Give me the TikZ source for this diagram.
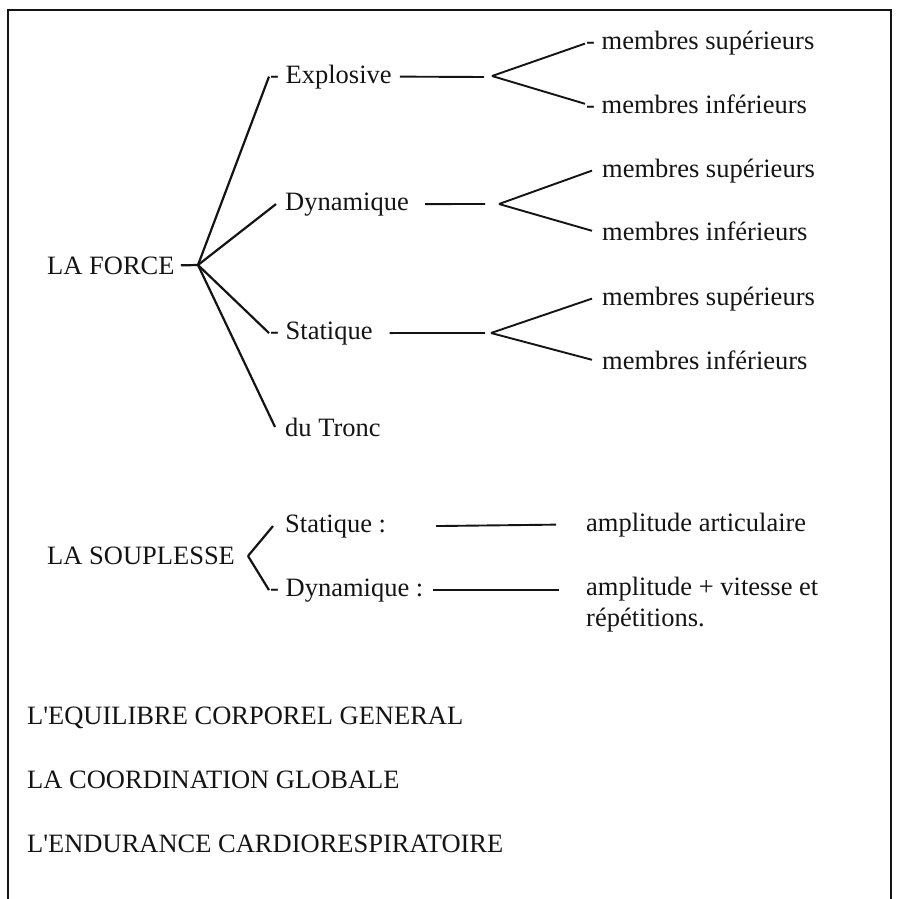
\documentclass[tikz,border=0pt]{standalone}
\usepackage{fontspec}
\setmainfont{Liberation Serif}
\usetikzlibrary{positioning}
\definecolor{Ctrait}{RGB}{20,20,20}
\tikzset{
  lbl/.style={inner sep=0pt, anchor=base west, text=Ctrait,
              font=\fontsize{26.5}{31}\selectfont},
  fan/.style={line width=2.2pt, Ctrait},
  hline/.style={line width=1.9pt, Ctrait},
}

\begin{document}
\begin{tikzpicture}[x=1pt, y=-1pt]
  \useasboundingbox (0,0) rectangle (898,899);
  \draw[line width=1.5pt, Ctrait] (8,899) -- (8,10) -- (891,10) -- (891,899);

  % la force
  \node[lbl] (force) at (47,274) {LA FORCE};
  \node[lbl] (explosive) at (270,83) {- Explosive};
  \node[lbl] (dynamique) at (285,210) {Dynamique};
  \node[lbl] (statique) at (270,339) {- Statique};
  \node[lbl] (tronc) at (285,436) {du Tronc};

  \node[lbl] (exsup) at (586,50) {- membres sup\'{e}rieurs};
  \node[lbl] (exinf) at (586,113) {- membres inf\'{e}rieurs};
  \node[lbl] (dysup) at (602,177) {membres sup\'{e}rieurs};
  \node[lbl] (dyinf) at (602,240) {membres inf\'{e}rieurs};
  \node[lbl] (stsup) at (602,305) {membres sup\'{e}rieurs};
  \node[lbl] (stinf) at (602,369) {membres inf\'{e}rieurs};

  \coordinate (fF) at (198,265);
  \coordinate (exJ) at (484,77);
  \coordinate (exS) at (492,76);
  \coordinate (dyJ) at (485,204);
  \coordinate (dyS) at (499,204);
  \coordinate (stJ) at (485,333);
  \coordinate (stS) at (491,333);

  \draw[fan] ([xshift=6pt]force.east) -- (fF);
  \draw[fan] (fF) -- ([xshift=-1pt]explosive.west);
  \draw[fan] (fF) -- ([xshift=-9pt]dynamique.west);
  \draw[fan] (fF) -- ([xshift=-1pt]statique.west);
  \draw[fan] (fF) -- ([xshift=-10pt]tronc.west);

  \draw[hline] ([xshift=8pt]explosive.east) -- (exJ);
  \draw[hline] ([xshift=16pt]dynamique.east) -- (dyJ);
  \draw[hline] ([xshift=17pt]statique.east) -- (stJ);

  \draw[hline] (exS) -- ([xshift=-1pt]exsup.west);
  \draw[hline] (exS) -- ([xshift=-1pt]exinf.west);
  \draw[hline] (dyS) -- ([xshift=-10pt]dysup.west);
  \draw[hline] (dyS) -- ([xshift=-10pt]dyinf.west);
  \draw[hline] (stS) -- ([xshift=-10pt]stsup.west);
  \draw[hline] (stS) -- ([xshift=-10pt]stinf.west);

  % la souplesse
  \node[lbl] (souplesse) at (47,564) {LA SOUPLESSE};
  \node[lbl] (soStat) at (285,532) {Statique :};
  \node[lbl] (soDyn) at (270,596) {- Dynamique :};
  \node[lbl] (amplArt) at (586,531) {amplitude articulaire};
  \node[lbl, align=left] (amplVit) at (586,626)
    {amplitude + vitesse et\\r\'{e}p\'{e}titions.};

  \coordinate (fS) at (248,556);
  \draw[fan] (fS) -- ([xshift=-12pt]soStat.west);
  \draw[fan] (fS) -- ([xshift=-1pt]soDyn.west);
  \draw[hline] ([xshift=50pt]soStat.east) -- ([xshift=-30pt]amplArt.west);
  \draw[hline] ([xshift=10pt]soDyn.east) -- ++(126,0);

  \node[lbl] (equilibre) at (27,724) {L\textquotesingle EQUILIBRE CORPOREL GENERAL};
  \node[lbl] (coordination) at (27,788) {LA COORDINATION GLOBALE};
  \node[lbl] (endurance) at (27,852) {L\textquotesingle ENDURANCE CARDIORESPIRATOIRE};
\end{tikzpicture}
\end{document}
